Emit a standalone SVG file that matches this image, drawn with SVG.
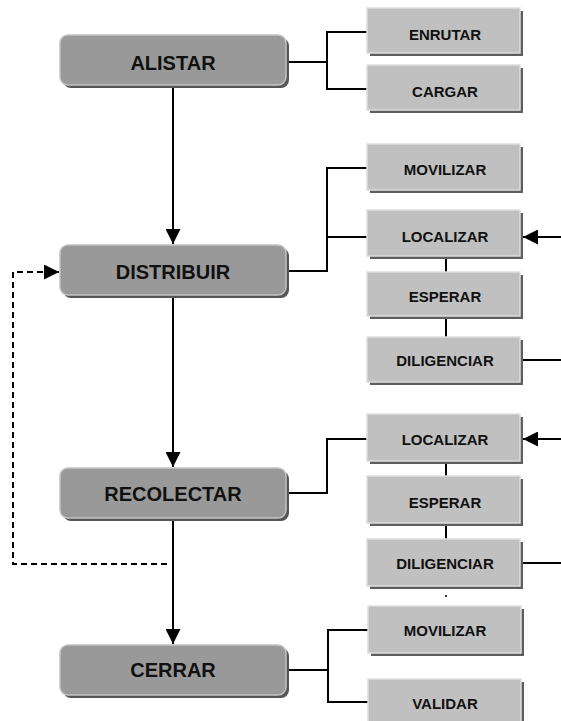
<svg xmlns="http://www.w3.org/2000/svg" width="561" height="721" viewBox="0 0 561 721">
  <style>
    .main-shadow { fill: #555555; }
    .main-box { fill: #999999; stroke: #c4c4c4; stroke-width: 1.5; }
    .sub-shadow { fill: #5e5e5e; }
    .sub-box { fill: #c0c0c0; stroke: #dedede; stroke-width: 1.5; }
    .main-text { font-family: "Liberation Sans", Arial, sans-serif; font-weight: bold; font-size: 20px; fill: #111111; text-anchor: middle; }
    .sub-text { font-family: "Liberation Sans", Arial, sans-serif; font-weight: bold; font-size: 15px; fill: #111111; text-anchor: middle; }
    .line { fill: none; stroke: #000000; stroke-width: 2; }
    .dashed { fill: none; stroke: #000000; stroke-width: 2; stroke-dasharray: 6 4; }
  </style>
  <defs>
    <marker id="arrow" viewBox="0 0 10 10" refX="10" refY="5" markerWidth="15" markerHeight="15" markerUnits="userSpaceOnUse" orient="auto">
      <path d="M0,0 L10,5 L0,10 Z" fill="#000000"/>
    </marker>
  </defs>

  <rect width="561" height="721" fill="#ffffff"/>

  <!-- connectors -->
  <g id="connectors">
    <!-- main flow -->
    <path class="line" d="M173,86 V244" marker-end="url(#arrow)"/>
    <path class="line" d="M173,296 V467" marker-end="url(#arrow)"/>
    <path class="line" d="M173,519 V644" marker-end="url(#arrow)"/>
    <!-- loop back from RECOLECTAR to DISTRIBUIR -->
    <path class="dashed" d="M167,564 H13 V272 H59" marker-end="url(#arrow)"/>
    <!-- ALISTAR branches -->
    <path class="line" d="M288,62 H327"/>
    <path class="line" d="M370,32 H327 V89 H370"/>
    <!-- DISTRIBUIR branches -->
    <path class="line" d="M288,271 H327 V168 H370"/>
    <path class="line" d="M327,237 H370"/>
    <path class="line" d="M446,256 V272"/>
    <path class="line" d="M446,316 V337"/>
    <path class="line" d="M561,237 H523" marker-end="url(#arrow)"/>
    <path class="line" d="M520,360 H561"/>
    <!-- RECOLECTAR branches -->
    <path class="line" d="M288,493 H327 V439 H370"/>
    <path class="line" d="M446,462 V476"/>
    <path class="line" d="M446,524 V539"/>
    <path class="line" d="M561,439 H523" marker-end="url(#arrow)"/>
    <path class="line" d="M520,563 H561"/>
    <circle cx="446" cy="596" r="1" fill="#000000"/>
    <!-- CERRAR branches -->
    <path class="line" d="M288,670 H328"/>
    <path class="line" d="M370,630 H328 V702 H370"/>
  </g>

  <!-- main steps -->
  <g id="alistar">
    <rect class="main-shadow" x="63" y="38" width="226" height="50" rx="8"/>
    <rect class="main-box" x="60" y="35" width="226" height="50" rx="8"/>
    <text class="main-text" x="173" y="70">ALISTAR</text>
  </g>
  <g id="distribuir">
    <rect class="main-shadow" x="63" y="248" width="226" height="50" rx="8"/>
    <rect class="main-box" x="60" y="245" width="226" height="50" rx="8"/>
    <text class="main-text" x="173" y="279">DISTRIBUIR</text>
  </g>
  <g id="recolectar">
    <rect class="main-shadow" x="63" y="471" width="226" height="50" rx="8"/>
    <rect class="main-box" x="60" y="468" width="226" height="50" rx="8"/>
    <text class="main-text" x="173" y="501">RECOLECTAR</text>
  </g>
  <g id="cerrar">
    <rect class="main-shadow" x="63" y="648" width="226" height="50" rx="8"/>
    <rect class="main-box" x="60" y="645" width="226" height="50" rx="8"/>
    <text class="main-text" x="173" y="677">CERRAR</text>
  </g>

  <!-- sub-tasks -->
  <g id="enrutar">
    <rect class="sub-shadow" x="370" y="11" width="153" height="45"/>
    <rect class="sub-box" x="367" y="8" width="153" height="45"/>
    <text class="sub-text" x="445" y="40">ENRUTAR</text>
  </g>
  <g id="cargar">
    <rect class="sub-shadow" x="370" y="68" width="153" height="45"/>
    <rect class="sub-box" x="367" y="65" width="153" height="45"/>
    <text class="sub-text" x="445" y="97">CARGAR</text>
  </g>
  <g id="movilizar-1">
    <rect class="sub-shadow" x="370" y="147" width="153" height="46"/>
    <rect class="sub-box" x="367" y="144" width="153" height="46"/>
    <text class="sub-text" x="445" y="175">MOVILIZAR</text>
  </g>
  <g id="localizar-1">
    <rect class="sub-shadow" x="370" y="213" width="153" height="46"/>
    <rect class="sub-box" x="367" y="210" width="153" height="46"/>
    <text class="sub-text" x="445" y="242">LOCALIZAR</text>
  </g>
  <g id="esperar-1">
    <rect class="sub-shadow" x="370" y="275" width="153" height="44"/>
    <rect class="sub-box" x="367" y="272" width="153" height="44"/>
    <text class="sub-text" x="445" y="302">ESPERAR</text>
  </g>
  <g id="diligenciar-1">
    <rect class="sub-shadow" x="370" y="340" width="153" height="45"/>
    <rect class="sub-box" x="367" y="337" width="153" height="45"/>
    <text class="sub-text" x="445" y="366">DILIGENCIAR</text>
  </g>
  <g id="localizar-2">
    <rect class="sub-shadow" x="370" y="417" width="153" height="47"/>
    <rect class="sub-box" x="367" y="414" width="153" height="47"/>
    <text class="sub-text" x="445" y="445">LOCALIZAR</text>
  </g>
  <g id="esperar-2">
    <rect class="sub-shadow" x="370" y="479" width="153" height="47"/>
    <rect class="sub-box" x="367" y="476" width="153" height="47"/>
    <text class="sub-text" x="445" y="508">ESPERAR</text>
  </g>
  <g id="diligenciar-2">
    <rect class="sub-shadow" x="370" y="542" width="153" height="47"/>
    <rect class="sub-box" x="367" y="539" width="153" height="47"/>
    <text class="sub-text" x="445" y="569">DILIGENCIAR</text>
  </g>
  <g id="movilizar-2">
    <rect class="sub-shadow" x="371" y="609" width="153" height="47"/>
    <rect class="sub-box" x="368" y="606" width="153" height="47"/>
    <text class="sub-text" x="445" y="636">MOVILIZAR</text>
  </g>
  <g id="validar">
    <rect class="sub-shadow" x="371" y="682" width="153" height="45"/>
    <rect class="sub-box" x="368" y="679" width="153" height="45"/>
    <text class="sub-text" x="445" y="709">VALIDAR</text>
  </g>
</svg>
